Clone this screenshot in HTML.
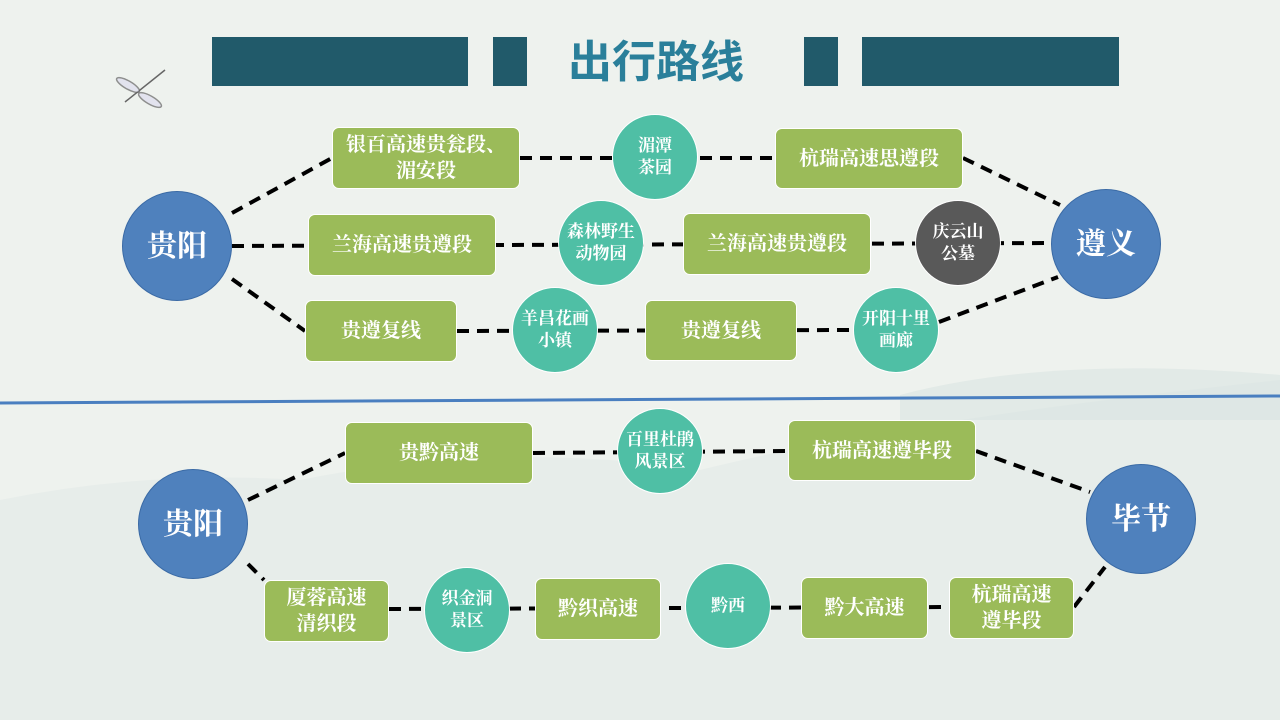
<!DOCTYPE html>
<html><head><meta charset="utf-8"><style>
*{margin:0;padding:0;box-sizing:border-box}
body{width:1280px;height:720px;overflow:hidden;background:#eef2ee;position:relative;font-family:"Liberation Serif","Noto Serif CJK SC",serif}
.n{position:absolute;display:flex;align-items:center;justify-content:center;text-align:center;color:#fff;font-weight:bold;line-height:1.3}
.b{background:#9bbb59;border:1.5px solid #fff;border-radius:7px;font-size:20px}
.c{background:#4fbfa5;border:1.5px solid #fff;border-radius:50%;font-size:17px}
.d{background:#595959}
.g{background:#4f81bd;border:1px solid #3a6aa5;border-radius:50%;font-size:30px}
.bar{position:absolute;background:#215a6a}
</style></head><body>
<svg width="1280" height="720" style="position:absolute;left:0;top:0">
<path d="M0 500 Q150 470 300 480 Q500 440 700 470 Q900 420 1280 380 L1280 720 L0 720Z" fill="#e2eae8" opacity="0.6"/>
<path d="M900 395 Q1050 355 1280 375 L1280 420 L900 420Z" fill="#d6e2e0" opacity="0.5"/>
<line x1="0" y1="403" x2="1280" y2="396" stroke="#4a7fc0" stroke-width="3"/>
<g stroke="#000" stroke-width="4" stroke-dasharray="12 8" fill="none">
<path d="M232 213 L332 158"/><path d="M520 158 L775 158"/><path d="M963 158 L1060 205"/>
<path d="M232 246 L1051 243"/>
<path d="M232 279 L305 331"/><path d="M457 331 L852 330"/><path d="M939 322 L1058 277"/>
<path d="M248 500 L345 453"/><path d="M533 453 L788 451"/><path d="M976 451 L1090 492"/>
<path d="M248 564 L264 580"/><path d="M389 609 L949 607"/><path d="M1074 607 L1105 567"/>
</g>
<g stroke="#666" stroke-width="1.5"><line x1="125" y1="102" x2="165" y2="70"/><ellipse cx="128" cy="85" rx="13" ry="4" fill="#dde" opacity=".7" transform="rotate(30 128 85)"/><ellipse cx="150" cy="100" rx="13" ry="4" fill="#dde" opacity=".7" transform="rotate(30 150 100)"/></g>
</svg>
<div class="bar" style="left:212px;top:37px;width:256px;height:49px"></div>
<div class="bar" style="left:493px;top:37px;width:34px;height:49px"></div>
<div class="bar" style="left:804px;top:37px;width:34px;height:49px"></div>
<div class="bar" style="left:862px;top:37px;width:257px;height:49px"></div>
<div class="n" style="left:540px;top:35px;width:232px;height:55px;color:#2a7f9a;font-size:44px;font-family:'Liberation Sans','Noto Sans CJK SC',sans-serif">出行路线</div>

<div class="n g" style="left:122px;top:191px;width:110px;height:110px">贵阳</div>
<div class="n g" style="left:1051px;top:189px;width:110px;height:110px">遵义</div>
<div class="n b" style="left:332px;top:127px;width:188px;height:62px">银百高速贵瓮段、<br>湄安段</div>
<div class="n c" style="left:612px;top:114px;width:86px;height:86px">湄潭<br>茶园</div>
<div class="n b" style="left:775px;top:128px;width:188px;height:61px">杭瑞高速思遵段</div>
<div class="n b" style="left:308px;top:214px;width:188px;height:62px">兰海高速贵遵段</div>
<div class="n c" style="left:558px;top:200px;width:86px;height:86px">森林野生<br>动物园</div>
<div class="n b" style="left:683px;top:213px;width:188px;height:62px">兰海高速贵遵段</div>
<div class="n c d" style="left:915px;top:200px;width:86px;height:86px">庆云山<br>公墓</div>
<div class="n b" style="left:305px;top:300px;width:152px;height:62px">贵遵复线</div>
<div class="n c" style="left:512px;top:287px;width:86px;height:86px">羊昌花画<br>小镇</div>
<div class="n b" style="left:645px;top:300px;width:152px;height:61px">贵遵复线</div>
<div class="n c" style="left:853px;top:287px;width:86px;height:86px">开阳十里<br>画廊</div>

<div class="n g" style="left:138px;top:469px;width:110px;height:110px">贵阳</div>
<div class="n g" style="left:1086px;top:464px;width:110px;height:110px">毕节</div>
<div class="n b" style="left:345px;top:422px;width:188px;height:62px">贵黔高速</div>
<div class="n c" style="left:617px;top:408px;width:86px;height:86px">百里杜鹃<br>风景区</div>
<div class="n b" style="left:788px;top:420px;width:188px;height:61px">杭瑞高速遵毕段</div>
<div class="n b" style="left:264px;top:580px;width:125px;height:62px">厦蓉高速<br>清织段</div>
<div class="n c" style="left:424px;top:567px;width:86px;height:86px">织金洞<br>景区</div>
<div class="n b" style="left:535px;top:578px;width:126px;height:62px">黔织高速</div>
<div class="n c" style="left:685px;top:563px;width:86px;height:86px">黔西</div>
<div class="n b" style="left:801px;top:577px;width:127px;height:62px">黔大高速</div>
<div class="n b" style="left:949px;top:577px;width:125px;height:62px">杭瑞高速<br>遵毕段</div>
</body></html>
